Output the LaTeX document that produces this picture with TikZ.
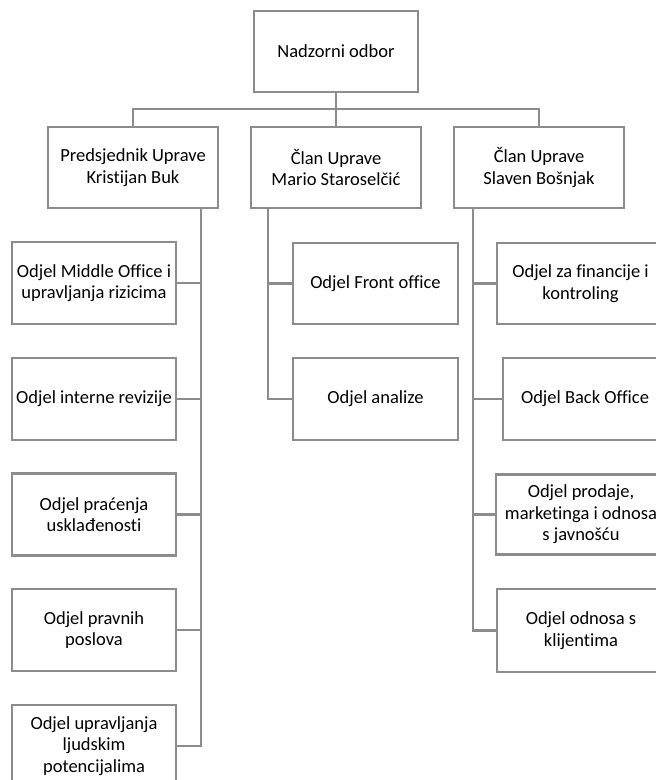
\documentclass[tikz,border=0pt]{standalone}
\usepackage{fontspec}
\setmainfont{Carlito}[Ligatures={NoCommon}]
\definecolor{linegray}{RGB}{140,140,140}
\begin{document}
\begin{tikzpicture}[x=1pt,y=-1pt,
  box/.style={draw=linegray, line width=2.8pt, fill=white, align=center,
    inner sep=0pt, font=\fontsize{18.5}{21.5}\selectfont, text=black},
  conn/.style={draw=linegray, line width=2.8pt}]
\useasboundingbox (0,0) rectangle (656,780);
\clip (0,0) rectangle (656,780);
% top
\node[box, minimum width=164pt, minimum height=81pt] (top) at (336,51.5) {Nadzorni odbor};
% level 2
\node[box, minimum width=170pt, minimum height=81pt] (la) at (133,167.5) {Predsjednik Uprave\\Kristijan Buk};
\node[box, minimum width=170pt, minimum height=81pt] (lb) at (336,167.5) {Član Uprave\\Mario Staroselčić};
\node[box, minimum width=170pt, minimum height=81pt] (lc) at (539,167.5) {Član Uprave\\Slaven Bošnjak};
% left children
\node[box, minimum width=164pt, minimum height=82pt] (a1) at (94,283) {Odjel Middle Office i\\upravljanja rizicima};
\node[box, minimum width=164pt, minimum height=82pt] (a2) at (94,399) {Odjel interne revizije};
\node[box, minimum width=164pt, minimum height=82pt] (a3) at (94,514.5) {Odjel praćenja\\usklađenosti};
\node[box, minimum width=164pt, minimum height=82pt] (a4) at (94,630) {Odjel pravnih\\poslova};
\node[box, minimum width=164pt, minimum height=82pt] (a5) at (94,746) {Odjel upravljanja\\ljudskim\\potencijalima};
% middle children
\node[box, minimum width=165pt, minimum height=81pt] (b1) at (375.5,283.5) {Odjel Front office};
\node[box, minimum width=165pt, minimum height=82pt] (b2) at (375.5,399) {Odjel analize};
% right children
\node[box, minimum width=167pt, minimum height=81pt] (c1) at (580.5,283.5) {Odjel za financije i\\kontroling};
\node[box, minimum width=164pt, minimum height=82pt] (c2) at (585,399) {Odjel Back Office};
\node[box, minimum width=170pt, minimum height=80pt] (c3) at (581,514.5) {Odjel prodaje,\\marketinga i odnosa\\s javnošću};
\node[box, minimum width=168pt, minimum height=83pt] (c4) at (581,630.5) {Odjel odnosa s\\klijentima};
% bus
\coordinate (bus) at (336,109);
\draw[conn] (top.south) -- (bus);
\draw[conn] (la.north) |- (bus) -| (lc.north);
\draw[conn] (bus) -- (lb.north);
% trunks
\coordinate (ta) at (201,208);
\coordinate (tb) at (268,208);
\coordinate (tc) at (473,208);
\draw[conn] (ta) |- (a5.east);
\foreach \n in {a1,a2,a3,a4} \draw[conn] (\n.east) -- (ta |- \n.east);
\draw[conn] (tb) |- (b2.west);
\draw[conn] (b1.west) -- (tb |- b1.west);
\draw[conn] (tc) |- (c4.west);
\foreach \n in {c1,c2,c3} \draw[conn] (\n.west) -- (tc |- \n.west);
\end{tikzpicture}
\end{document}
